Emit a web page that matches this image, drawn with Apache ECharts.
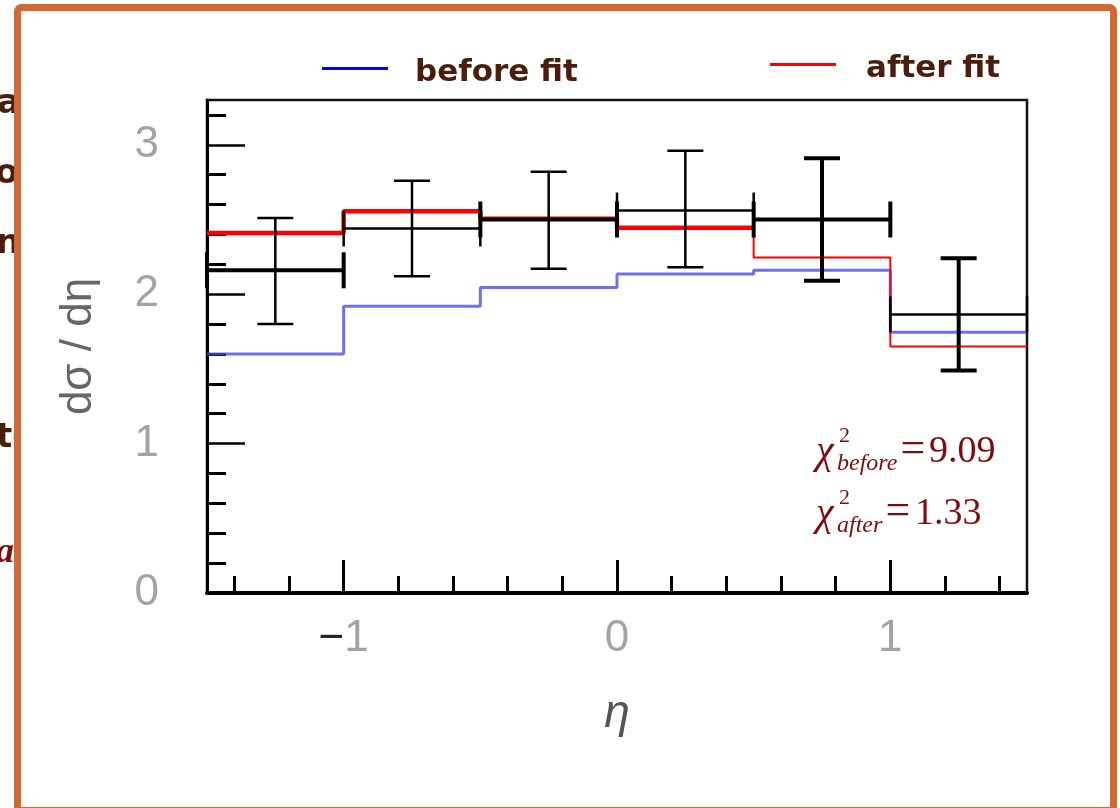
<!DOCTYPE html>
<html>
<head>
<meta charset="utf-8">
<script src="https://cdn.jsdelivr.net/npm/echarts@6/dist/echarts.min.js"></script>
<style>
  html, body { margin: 0; padding: 0; background: #ffffff; }
  #chart { width: 1120px; height: 808px; }
</style>
</head>
<body>
<div id="chart"></div>
<script>
// Pseudorapidity bins and the differential cross section per bin
const etaEdges = [-1.5, -1, -0.5, 0, 0.5, 1, 1.5];
const binCenters = [-1.25, -0.75, -0.25, 0.25, 0.75, 1.25];
const beforeFit = [1.60, 1.92, 2.045, 2.135, 2.16, 1.745];
const afterFit = [2.41, 2.555, 2.505, 2.445, 2.245, 1.65];
const measured = [2.16, 2.44, 2.50, 2.56, 2.50, 1.865];
const measuredLow = [1.80, 2.12, 2.17, 2.18, 2.09, 1.49];
const measuredHigh = [2.51, 2.76, 2.82, 2.96, 2.91, 2.24];

// Axis ticks
const xMajorTicks = [-1, 0, 1];
const xMinorTicks = [-1.4, -1.2, -0.8, -0.6, -0.4, -0.2, 0.2, 0.4, 0.6, 0.8, 1.2, 1.4];
const yMajorTicks = [0, 1, 2, 3];
const yMinorTicks = [0.2, 0.4, 0.6, 0.8, 1.2, 1.4, 1.6, 1.8, 2.2, 2.4, 2.6, 2.8, 3.2];

// Legend and fit-quality labels
const legendBefore = 'before fit';
const legendAfter = 'after fit';
const chi2Before = '9.09';
const chi2After = '1.33';

// Stroke widths of the measured crosses (horizontal / vertical parts)
const hBarWidth = [4, 2.5, 4, 2.5, 4, 2.5];
const vBarWidth = [2.5, 2.5, 2.5, 2.5, 4, 4];

// Step outlines: 'end' step keeps each bin value until the next edge
function stepEnd(values, from, to) {
  const pts = [];
  for (let i = from; i < to; i++) pts.push([etaEdges[i], values[i]]);
  pts.push([etaEdges[to], values[to - 1]]);
  return pts;
}
// 'start' step: rises at the left edge of each bin, starting from the previous bin value
function stepStart(values, from, to) {
  const pts = [[etaEdges[from], values[from - 1]]];
  for (let i = from; i < to; i++) pts.push([etaEdges[i + 1], values[i]]);
  return pts;
}

const crossData = binCenters.map((c, i) => [c, measured[i], etaEdges[i], etaEdges[i + 1], measuredLow[i], measuredHigh[i]]);

const serif = '"Liberation Serif", "DejaVu Serif", serif';
const chiColor = '#7d0c0c';
const fragBrown = '#4a1e0b';

function chiLabel(y, sub, subEqX, value, valueX) {
  return [
    { type: 'text', z: 50, style: { x: 816, y: y, text: 'χ', font: 'italic 40px ' + serif, fill: chiColor, textVerticalAlign: 'middle', verticalAlign: 'middle' } },
    { type: 'text', z: 50, style: { x: 839, y: y - 16, text: '2', font: '22px ' + serif, fill: chiColor, textVerticalAlign: 'middle', verticalAlign: 'middle' } },
    { type: 'text', z: 50, style: { x: 837, y: y + 12, text: sub, font: 'italic 24px ' + serif, fill: chiColor, textVerticalAlign: 'middle', verticalAlign: 'middle' } },
    { type: 'text', z: 50, style: { x: subEqX, y: y - 2, text: '=', font: '44px ' + serif, fill: chiColor, textAlign: 'center', align: 'center', textVerticalAlign: 'middle', verticalAlign: 'middle' } },
    { type: 'text', z: 50, style: { x: valueX, y: y, text: value, font: '38px ' + serif, fill: chiColor, textVerticalAlign: 'middle', verticalAlign: 'middle' } }
  ];
}

function fragment(text, x, y, font, color) {
  return { type: 'text', z: -20, style: { x: x, y: y, text: text, font: font, fill: color, textVerticalAlign: 'middle', verticalAlign: 'middle' } };
}

const chart = echarts.init(document.getElementById('chart'), null, { renderer: 'canvas' });

const legendText = { color: fragBrown, fontSize: 31, fontWeight: 'bold', fontFamily: '"DejaVu Sans", sans-serif' };
// legend key: a 3px bar sitting slightly above the text's middle line
const legendKey = 'path://M0,0 L66,0 L66,3 L0,3 Z M0,11 L0.1,11';

const option = {
  animation: false,
  backgroundColor: '#ffffff',
  grid: {
    left: 207, top: 100, width: 820, height: 493,
    show: true, borderColor: '#111', borderWidth: 2.5, backgroundColor: 'transparent'
  },
  legend: [
    {
      data: [{ name: legendBefore, itemStyle: { color: '#0000ff' } }],
      left: 322, top: 57, padding: 0,
      icon: legendKey, itemWidth: 66, itemHeight: 11,
      selectedMode: false,
      textStyle: Object.assign({ padding: [0, 0, 0, 22] }, legendText)
    },
    {
      data: [{ name: legendAfter, itemStyle: { color: '#ff0000' } }],
      left: 770, top: 53, padding: 0,
      icon: legendKey, itemWidth: 66, itemHeight: 11,
      selectedMode: false,
      textStyle: Object.assign({ padding: [0, 0, 0, 25] }, legendText)
    }
  ],
  xAxis: [
    {
      type: 'value', min: -1.5, max: 1.5, position: 'bottom',
      name: 'η', nameLocation: 'middle', nameGap: 98,
      nameTextStyle: { fontSize: 46, fontStyle: 'italic', color: '#555', fontFamily: '"Liberation Sans", sans-serif' },
      axisLine: { show: true, onZero: false, lineStyle: { color: '#000', width: 4 } },
      axisTick: { show: true, inside: true, length: 33, customValues: xMajorTicks, lineStyle: { color: '#000', width: 3 } },
      axisLabel: {
        customValues: xMajorTicks, margin: 24,
        formatter: v => v < 0 ? '{m|−}{d|' + Math.abs(v) + '}' : '{d|' + v + '}',
        rich: {
          m: { fontSize: 44, color: '#222', fontFamily: '"Liberation Sans", sans-serif' },
          d: { fontSize: 44, color: '#a3a3a3', fontFamily: '"Liberation Sans", sans-serif' }
        }
      },
      splitLine: { show: false }
    },
    {
      type: 'value', min: -1.5, max: 1.5, position: 'bottom',
      axisLine: { show: false, onZero: false },
      axisTick: { show: true, inside: true, length: 17, customValues: xMinorTicks, lineStyle: { color: '#000', width: 3 } },
      axisLabel: { show: false },
      splitLine: { show: false }
    }
  ],
  yAxis: [
    {
      type: 'value', min: 0, max: 3.3, position: 'left',
      name: 'dσ / dη', nameLocation: 'middle', nameGap: 106, nameRotate: 90,
      nameTextStyle: { fontSize: 44, color: '#666', fontFamily: '"Liberation Sans", sans-serif' },
      axisLine: { show: true, onZero: false, lineStyle: { color: '#000', width: 3 } },
      axisTick: { show: true, inside: true, length: 38, customValues: yMajorTicks, lineStyle: { color: '#000', width: 2.5 } },
      axisLabel: { customValues: yMajorTicks, margin: 48, fontSize: 44, color: '#a3a3a3', fontFamily: '"Liberation Sans", sans-serif' },
      splitLine: { show: false }
    },
    {
      type: 'value', min: 0, max: 3.3, position: 'left',
      axisLine: { show: false, onZero: false },
      axisTick: { show: true, inside: true, length: 19, customValues: yMinorTicks, lineStyle: { color: '#000', width: 3 } },
      axisLabel: { show: false },
      splitLine: { show: false }
    }
  ],
  series: [
    {
      name: legendBefore, type: 'line', step: 'end', showSymbol: false, symbol: 'none',
      data: stepEnd(beforeFit, 0, 6),
      color: '#0000ff',
      lineStyle: { color: 'rgba(70, 70, 238, 0.78)', width: 3 },
      z: 3
    },
    {
      name: legendAfter, type: 'line', step: 'end', showSymbol: false, symbol: 'none',
      data: stepEnd(afterFit, 0, 4),
      color: '#ff0000',
      lineStyle: { color: '#ff0000', width: 4.5 },
      z: 4
    },
    {
      name: legendAfter, type: 'line', step: 'start', showSymbol: false, symbol: 'none',
      data: stepStart(afterFit, 4, 6),
      color: '#ff0000',
      lineStyle: { color: '#ff0000', width: 2 },
      z: 4
    },
    {
      name: 'data', type: 'custom', clip: false, z: 6,
      data: crossData,
      renderItem: function (params, api) {
        const i = params.dataIndex;
        const pc = api.coord([api.value(0), api.value(1)]);
        const pl = api.coord([api.value(2), api.value(1)]);
        const ph = api.coord([api.value(3), api.value(1)]);
        const plo = api.coord([api.value(0), api.value(4)]);
        const phi = api.coord([api.value(0), api.value(5)]);
        const cap = 18;
        const hs = { stroke: '#000', lineWidth: hBarWidth[i] };
        const vs = { stroke: '#000', lineWidth: vBarWidth[i] };
        const seg = (x1, y1, x2, y2, st) => ({ type: 'line', shape: { x1, y1, x2, y2 }, style: st });
        return {
          type: 'group',
          children: [
            seg(pl[0], pc[1], ph[0], pc[1], hs),
            seg(pl[0], pc[1] - cap, pl[0], pc[1] + cap, hs),
            seg(ph[0], pc[1] - cap, ph[0], pc[1] + cap, hs),
            seg(pc[0], phi[1], pc[0], plo[1], vs),
            seg(pc[0] - cap, phi[1], pc[0] + cap, phi[1], vs),
            seg(pc[0] - cap, plo[1], pc[0] + cap, plo[1], vs)
          ]
        };
      }
    }
  ],
  graphic: [
    // text running in from the neighbouring column of the slide
    fragment('a', -3, 104, 'bold 34px "DejaVu Sans", sans-serif', fragBrown),
    fragment('o', -5, 174, 'bold 34px "DejaVu Sans", sans-serif', fragBrown),
    fragment('n', -4, 244, 'bold 34px "DejaVu Sans", sans-serif', fragBrown),
    fragment('te', -4, 438, 'bold 34px "DejaVu Sans", sans-serif', fragBrown),
    fragment('ac', -4, 553, 'italic bold 36px ' + serif, '#7d0c0c'),
    // slide panel
    {
      type: 'rect', z: -10,
      shape: { x: 17.5, y: 7.5, width: 1096, height: 803, r: 4 },
      style: { fill: '#ffffff', stroke: '#cf6a35', lineWidth: 7 }
    }
  ].concat(
    chiLabel(452, 'before', 913, chi2Before, 929),
    chiLabel(514, 'after', 898, chi2After, 915)
  )
};

chart.setOption(option);
</script>
</body>
</html>
